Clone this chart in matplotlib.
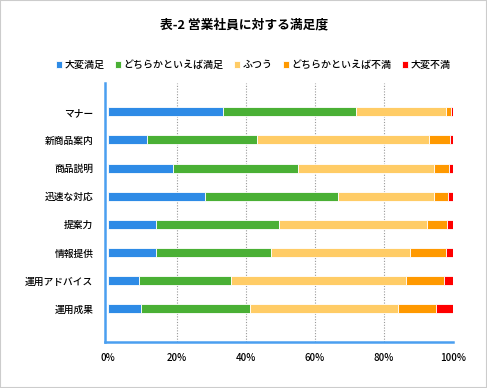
import numpy as np
import matplotlib
matplotlib.use('Agg')
import matplotlib.pyplot as plt
from matplotlib.patches import Rectangle

plt.rcParams['font.family'] = ['Noto Sans CJK JP', 'DejaVu Sans']

## data (percent)
items = ['マナー', '新商品案内', '商品説明', '迅速な対応', '提案力', '情報提供', '運用アドバイス', '運用成果']
series = ['大変満足', 'どちらかといえば満足', 'ふつう', 'どちらかといえば不満', '大変不満']
very_satisfied = [33.3, 11.4, 18.8, 28.1, 14.0, 14.0, 9.1, 9.7]
satisfied = [38.7, 31.9, 36.4, 38.7, 35.7, 33.3, 26.6, 31.6]
neutral = [26.1, 49.8, 39.4, 27.8, 42.9, 40.3, 50.8, 42.9]
dissatisfied = [1.3, 6.1, 4.3, 4.0, 5.8, 10.5, 11.0, 11.0]
very_dissatisfied = [0.6, 0.8, 1.1, 1.4, 1.6, 1.9, 2.5, 4.8]
xticks = [0, 20, 40, 60, 80, 100]

colors = ['#2e8be6', '#4ab035', '#ffcc66', '#ff9900', '#ff0000']
values = [very_satisfied, satisfied, neutral, dissatisfied, very_dissatisfied]

fig = plt.figure(figsize=(4.87, 3.88), dpi=100)
ax = fig.add_axes([104.5/487, 1 - 342/388, (453 - 104.5)/487, (342 - 83)/388])

y = np.arange(len(items))
left = np.zeros(len(items))
for name, vals, c in zip(series, values, colors):
    vals = np.array(vals)
    ax.barh(y, vals, left=left, height=0.32, color=c, edgecolor='white',
            linewidth=0.6, label=name, zorder=3)
    left += vals

ax.set_xlim(-0.9, 100)
ax.set_ylim(8.18, -1.02)
ax.set_yticks(y)
ax.set_yticklabels(items, fontsize=7, fontweight='medium')
ax.set_xticks(xticks)
ax.set_xticklabels([f'{t}%' for t in xticks], fontsize=7, fontweight='medium')
ax.tick_params(length=0, pad=8)
ax.tick_params(axis='x', pad=8)

for t in xticks[1:-1]:
    ax.axvline(t, color='#999999', linestyle=(0, (1, 1.5)), linewidth=0.8, zorder=1)

for s in ['top', 'right']:
    ax.spines[s].set_visible(False)
for s in ['left', 'bottom']:
    ax.spines[s].set_color('#4a9ff0')
    ax.spines[s].set_linewidth(1.8)

fig.text(244/487, 1 - 25/388, '表-2 営業社員に対する満足度', ha='center', va='center',
         fontsize=9.2, fontweight='bold')

fig.legend(loc='center', bbox_to_anchor=(253/487, 1 - 65/388), ncol=5, frameon=False,
           prop={'size': 7.2, 'weight': 'medium'}, handlelength=0.6, handleheight=0.6,
           handletextpad=0.3, columnspacing=1.0, borderpad=0)

fig.patches.append(Rectangle((0, 0), 1, 1, transform=fig.transFigure, fill=False,
                             edgecolor='#cccccc', linewidth=1.5))

fig.savefig('out.png', dpi=100)
